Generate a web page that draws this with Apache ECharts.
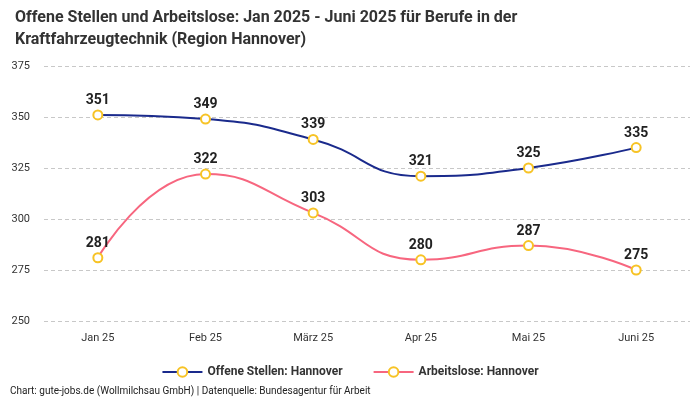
<!DOCTYPE html>
<html><head><meta charset="utf-8">
<script src="https://cdn.jsdelivr.net/npm/echarts@6/dist/echarts.min.js"></script>
<style>html,body{margin:0;padding:0;background:#fff}#c{width:700px;height:400px}</style>
</head><body><div id="c"></div>
<script>
const categories = ["Jan 25","Feb 25","März 25","Apr 25","Mai 25","Juni 25"];
const offeneStellen = [351,349,339,321,325,335];
const arbeitslose = [281,322,303,280,287,275];
const seriesNames = ["Offene Stellen: Hannover","Arbeitslose: Hannover"];
const titleText = "Offene Stellen und Arbeitslose: Jan 2025 - Juni 2025 für Berufe in der\nKraftfahrzeugtechnik (Region Hannover)";
const footerText = "Chart: gute-jobs.de (Wollmilchsau GmbH) | Datenquelle: Bundesagentur für Arbeit";

const font = "Roboto";
const chart = echarts.init(document.getElementById('c'));
function mk(name, data, color){
  return {
    name, type:'line', data, smooth:0.5,
    symbol:'circle', symbolSize:9,
    lineStyle:{color, width:2},
    itemStyle:{color:'#fff', borderColor:'#f7c325', borderWidth:2},
    label:{show:true, position:'top', distance:2, color:'#222', fontSize:14, fontWeight:'bold', fontFamily:font},
    emphasis:{disabled:true}
  };
}
chart.setOption({
  animation:false,
  textStyle:{fontFamily:font},
  title:[{text:titleText, left:10, top:2, textStyle:{fontSize:16, fontWeight:'bold', color:'#333', lineHeight:22, fontFamily:font}},
         {text:footerText, left:10, top:386, padding:0, textStyle:{fontSize:10, fontWeight:'normal', color:'#222', fontFamily:font}}],
  legend:{bottom:17, left:'center', itemGap:30, itemWidth:40, itemHeight:12,
    textStyle:{fontSize:12, fontWeight:'bold', color:'#333', fontFamily:font},
    data:[{name:seriesNames[0], itemStyle:{color:'#fff',borderColor:'#f7c325',borderWidth:2}, lineStyle:{color:'#1a2a8c'}},
          {name:seriesNames[1], itemStyle:{color:'#fff',borderColor:'#f7c325',borderWidth:2}, lineStyle:{color:'#f7667f'}}]},
  grid:{left:44, right:10, top:66, bottom:79},
  xAxis:{type:'category', data:categories, boundaryGap:true,
    axisLine:{show:false}, axisTick:{show:false},
    axisLabel:{color:'#333', fontSize:11, margin:12, fontFamily:font}},
  yAxis:{type:'value', min:250, max:375, interval:25,
    axisLabel:{color:'#333', fontSize:11, fontFamily:font, margin:14},
    splitLine:{lineStyle:{type:[4,3], color:'#c8c8c8'}}},
  series:[mk(seriesNames[0], offeneStellen, '#1a2a8c'), mk(seriesNames[1], arbeitslose, '#f7667f')]
});
</script></body></html>
